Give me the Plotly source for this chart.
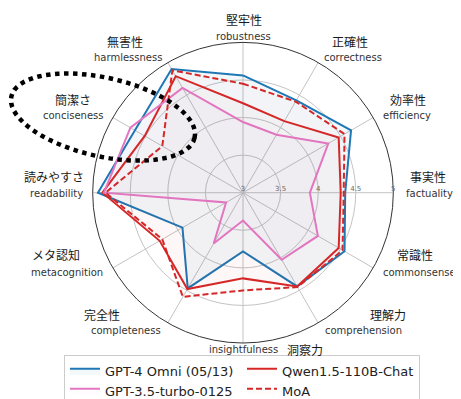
import math
import plotly.graph_objects as go

# ---------------- data ----------------
categories = ["robustness", "correctness", "efficiency", "factuality", "commonsense",
              "comprehension", "insightfulness", "completeness", "metacognition",
              "readability", "conciseness", "harmlessness"]
categories_ja = ["堅牢性", "正確性", "効率性", "事実性", "常識性", "理解力", "洞察力",
                 "完全性", "メタ認知", "読みやすさ", "簡潔さ", "無害性"]

gpt4o = [4.56, 4.42, 4.66, 4.36, 4.56, 4.44, 3.78, 4.47, 3.93, 4.93, 4.66, 4.90]
qwen = [4.19, 4.10, 4.47, 4.30, 4.47, 4.44, 4.14, 4.48, 4.28, 4.87, 4.51, 4.79]
gpt35 = [3.94, 3.89, 4.31, 3.89, 4.15, 4.03, 3.37, 3.78, 3.26, 4.85, 4.73, 4.61]
moa = [4.45, 4.40, 4.56, 4.34, 4.53, 4.45, 4.30, 4.60, 4.24, 4.83, 4.24, 4.88]

radial_ticks = [3, 3.5, 4, 4.5, 5]
radial_ticktext = ["3", "3.5", "4", "4.5", "5"]

# ---------------- layout constants ----------------
W, H = 461, 399
CX, CY, R = 235, 188, 153  # polar centre / radius in px

def px(x):
    return x / W

def py(y):
    return 1 - y / H

# label positions (px): (ja_x, ja_y, en_x, en_y)
label_pos = {
    "robustness": (236, 12, 235, 29),
    "correctness": (342, 34, 345, 50),
    "efficiency": (400, 93, 399, 109),
    "factuality": (420, 172, 421, 189),
    "commonsense": (407, 251, 411, 269),
    "comprehension": (380, 312, 355, 328),
    "insightfulness": (297, 348, 235, 348),
    "completeness": (94, 312, 118, 328),
    "metacognition": (48, 251, 59, 269),
    "readability": (46, 172, 48, 189),
    "conciseness": (65, 93, 65, 109),
    "harmlessness": (117, 34, 120, 50),
}

fig = go.Figure()

series = [
    ("GPT-4 Omni (05/13)", gpt4o, "#1f77b4", "solid", 0.055),
    ("Qwen1.5-110B-Chat", qwen, "#d62728", "solid", 0.018),
    ("GPT-3.5-turbo-0125", gpt35, "#e377c2", "solid", 0.018),
    ("MoA", moa, "#d62728", "6px,3px", 0.018),
]

def rgba(hexc, a):
    h = hexc.lstrip("#")
    r, g, b = int(h[0:2], 16), int(h[2:4], 16), int(h[4:6], 16)
    return f"rgba({r},{g},{b},{a})"

for name, vals, col, dash, alpha in series:
    fig.add_trace(go.Scatterpolar(
        r=vals + vals[:1],
        theta=categories + categories[:1],
        mode="lines",
        name=name,
        line=dict(color=col, width=2, dash=dash),
        fill="toself",
        fillcolor=rgba(col, alpha),
    ))

fig.update_layout(
    width=W, height=H,
    margin=dict(l=0, r=0, t=0, b=0),
    paper_bgcolor="white",
    font=dict(family="DejaVu Sans", color="#222"),
    polar=dict(
        domain=dict(x=[px(CX - R), px(CX + R)], y=[py(CY + R), py(CY - R)]),
        bgcolor="white",
        angularaxis=dict(
            rotation=90, direction="clockwise",
            categoryorder="array", categoryarray=categories,
            showticklabels=False, ticks="",
            showline=True, linecolor="#333", linewidth=1,
            showgrid=True, gridcolor="#c4c4c4", gridwidth=1,
        ),
        radialaxis=dict(
            range=[3, 5], tickvals=radial_ticks, ticktext=radial_ticktext,
            angle=0, side="counterclockwise", tickangle=0,
            showline=False, ticks="",
            tickfont=dict(size=7, color="#666"),
            showgrid=True, gridcolor="#c4c4c4", gridwidth=1,
        ),
    ),
    legend=dict(
        orientation="h",
        x=px(56), y=py(353), xanchor="left", yanchor="top",
        entrywidth=132, entrywidthmode="pixels",
        bordercolor="#cccccc", borderwidth=1,
        font=dict(size=13, family="DejaVu Sans", color="#222"),
        bgcolor="white",
        tracegroupgap=0,
        itemwidth=30,
    ),
    showlegend=True,
)

# category labels
for cat, ja in zip(categories, categories_ja):
    jx, jy, ex, ey = label_pos[cat]
    fig.add_annotation(x=px(jx), y=py(jy), xref="paper", yref="paper",
                       text=ja, showarrow=False, xanchor="center", yanchor="middle",
                       font=dict(family="Noto Sans CJK JP", size=12, color="#1a1a1a"))
    fig.add_annotation(x=px(ex), y=py(ey), xref="paper", yref="paper",
                       text=cat, showarrow=False, xanchor="center", yanchor="middle",
                       font=dict(family="DejaVu Sans", size=10, color="#333"))

# dotted highlight ellipse around "conciseness"
ecx, ecy, ea, eb, erot = 95, 111, 94, 40, math.radians(13)
pts = []
for i in range(73):
    t = 2 * math.pi * i / 72
    x = ecx + ea * math.cos(t) * math.cos(erot) - eb * math.sin(t) * math.sin(erot)
    y = ecy + ea * math.cos(t) * math.sin(erot) + eb * math.sin(t) * math.cos(erot)
    pts.append((px(x), py(y)))
path = "M " + " L ".join(f"{x:.5f},{y:.5f}" for x, y in pts) + " Z"
fig.add_shape(type="path", path=path, xref="paper", yref="paper",
              line=dict(color="black", width=4.5, dash="4.5px,4.5px"))

fig.write_html("out.html")
